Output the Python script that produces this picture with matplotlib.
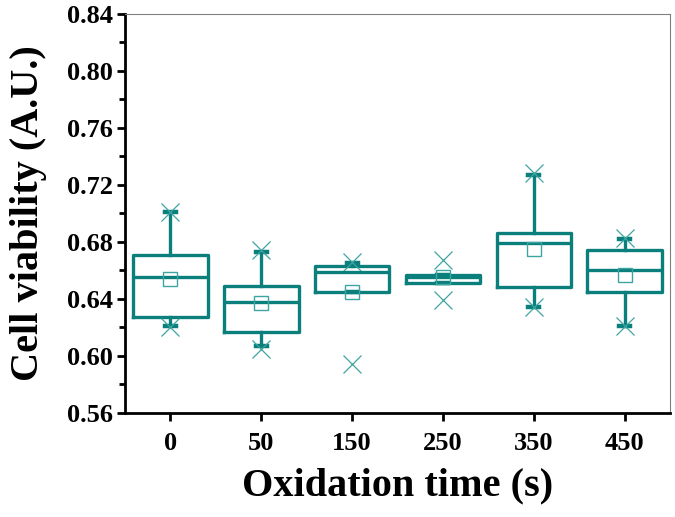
import numpy as np
import matplotlib.pyplot as plt
from matplotlib.ticker import MultipleLocator, FormatStrFormatter

plt.rcParams['font.family'] = ['Liberation Serif', 'DejaVu Serif']
plt.rcParams['font.weight'] = 'bold'

# box statistics
times = ['0', '50', '150', '250', '350', '450']
q1 = [0.627, 0.617, 0.645, 0.651, 0.648, 0.645]
med = [0.655, 0.638, 0.659, 0.655, 0.679, 0.660]
q3 = [0.671, 0.649, 0.663, 0.657, 0.686, 0.674]
mean = [0.654, 0.637, 0.645, 0.655, 0.675, 0.657]
whis_lo = [0.621, 0.607, 0.645, 0.651, 0.634, 0.621]
whis_hi = [0.701, 0.673, 0.665, 0.657, 0.727, 0.682]
x_lo = [0.620, 0.605, 0.594, 0.639, 0.634, 0.621]
x_hi = [0.701, 0.674, 0.666, 0.667, 0.728, 0.683]

teal = '#0b7f7c'
light = '#3da5a1'

stats = []
for i in range(len(times)):
    stats.append(dict(label=times[i], q1=q1[i], med=med[i], q3=q3[i], mean=mean[i],
                      whislo=whis_lo[i], whishi=whis_hi[i], fliers=[x_lo[i], x_hi[i]]))

fig = plt.figure(figsize=(6.75, 5.17), dpi=100)
ax = fig.add_axes([0.1852, 0.2017, 0.8074, 0.7712])

pos = np.arange(1, len(times) + 1)
ax.bxp(stats, positions=pos, widths=0.82, showmeans=True, capwidths=0.12,
       boxprops=dict(color=teal, linewidth=2.4),
       medianprops=dict(color=teal, linewidth=2.4),
       whiskerprops=dict(color=teal, linewidth=2.4),
       capprops=dict(color=teal, linewidth=3.2),
       meanprops=dict(marker='s', markerfacecolor='none', markeredgecolor=light,
                      markersize=9.5, markeredgewidth=1.0),
       flierprops=dict(marker='x', markeredgecolor=light, markersize=13,
                       markeredgewidth=0.9))

ax.set_xlim(0.5, 6.5)
ax.set_ylim(0.56, 0.84)
ax.set_xticks(pos)
ax.set_xticklabels(times)
ax.yaxis.set_major_locator(MultipleLocator(0.04))
ax.yaxis.set_minor_locator(MultipleLocator(0.02))
ax.yaxis.set_major_formatter(FormatStrFormatter('%.2f'))

for s in ['left', 'bottom']:
    ax.spines[s].set_linewidth(2.0)
for s in ['top', 'right']:
    ax.spines[s].set_linewidth(0.8)
    ax.spines[s].set_color('#808080')

ax.tick_params(axis='both', which='major', direction='out', length=6, width=2,
               labelsize=19, pad=3)
ax.tick_params(axis='x', which='major', pad=8)
ax.tick_params(axis='y', which='minor', direction='out', length=4, width=2)
ax.tick_params(axis='x', which='minor', bottom=False)
for lab in ax.get_xticklabels() + ax.get_yticklabels():
    lab.set_fontweight('bold')

ax.set_xlabel('Oxidation time (s)', fontsize=29, fontweight='bold', labelpad=9)
ax.set_ylabel('Cell viability (A.U.)', fontsize=29, fontweight='bold', labelpad=14)

fig.savefig('out.png', dpi=100)
